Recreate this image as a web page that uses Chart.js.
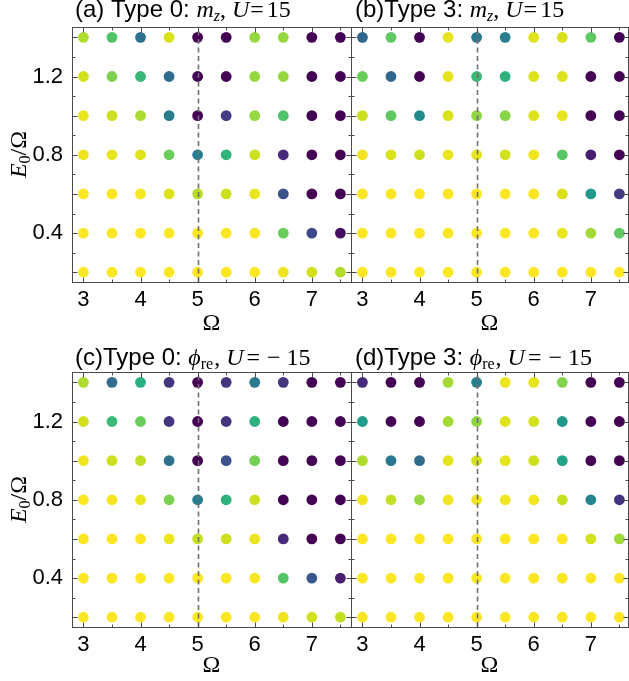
<!DOCTYPE html>
<html><head><meta charset="utf-8">
<script src="https://cdn.jsdelivr.net/npm/chart.js@4.4.1/dist/chart.umd.min.js"></script>
<style>
html,body{margin:0;padding:0;background:#fff;width:629px;height:681px;overflow:hidden}
canvas{position:absolute}
</style></head><body>
<canvas id="ca" width="352" height="340" style="left:0;top:0"></canvas>
<canvas id="cb" width="278" height="340" style="left:351px;top:0"></canvas>
<canvas id="cc" width="352" height="341" style="left:0;top:340px"></canvas>
<canvas id="cd" width="278" height="341" style="left:351px;top:340px"></canvas>
<script>
// ---- data ----
const omegaValues = [3, 3.5, 4, 4.5, 5, 5.5, 6, 6.5, 7, 7.5];
const e0Values = [1.4, 1.2, 1.0, 0.8, 0.6, 0.4, 0.2];
const xTickLabels = [3, 4, 5, 6, 7];
const yTickLabels = [0.4, 0.8, 1.2];
const criticalOmega = 5;
// colour value (0..1, viridis) per point, rows = e0Values (top to bottom), cols = omegaValues
const mzType0 = [
  [0.88, 0.72, 0.37, 0.94, 0.00, 0.00, 0.84, 0.84, 0.00, 0.00],
  [0.93, 0.80, 0.67, 0.35, 0.00, 0.00, 0.84, 0.84, 0.00, 0.00],
  [0.97, 0.92, 0.87, 0.41, 0.00, 0.17, 0.84, 0.72, 0.00, 0.00],
  [0.98, 0.96, 0.95, 0.77, 0.42, 0.65, 0.92, 0.12, 0.00, 0.00],
  [1.00, 1.00, 0.99, 0.95, 0.89, 0.92, 0.97, 0.25, 0.00, 0.00],
  [1.00, 1.00, 1.00, 1.00, 0.99, 1.00, 0.99, 0.77, 0.22, 0.03],
  [1.00, 1.00, 1.00, 1.00, 1.00, 1.00, 1.00, 0.98, 0.93, 0.88]
];
const mzType3 = [
  [0.33, 0.75, 0.00, 0.96, 0.40, 0.42, 0.95, 0.94, 0.75, 0.00],
  [0.77, 0.33, 0.00, 0.96, 0.68, 0.64, 0.95, 0.95, 0.00, 0.00],
  [0.92, 0.75, 0.47, 0.94, 0.83, 0.82, 0.95, 0.96, 0.00, 0.00],
  [0.98, 0.94, 0.92, 0.97, 0.96, 0.93, 0.98, 0.74, 0.08, 0.00],
  [1.00, 1.00, 1.00, 1.00, 1.00, 1.00, 1.00, 0.94, 0.53, 0.17],
  [1.00, 1.00, 1.00, 1.00, 1.00, 1.00, 1.00, 0.97, 0.86, 0.75],
  [1.00, 1.00, 1.00, 1.00, 1.00, 1.00, 1.00, 1.00, 1.00, 1.00]
];
const phiType0 = [
  [0.88, 0.35, 0.63, 0.15, 0.00, 0.15, 0.41, 0.15, 0.00, 0.00],
  [0.93, 0.68, 0.77, 0.15, 0.00, 0.15, 0.64, 0.00, 0.00, 0.00],
  [0.98, 0.92, 0.90, 0.37, 0.00, 0.25, 0.79, 0.00, 0.00, 0.00],
  [1.00, 0.99, 0.97, 0.80, 0.42, 0.64, 0.92, 0.00, 0.00, 0.00],
  [1.00, 1.00, 1.00, 0.97, 0.91, 0.92, 0.97, 0.12, 0.00, 0.00],
  [1.00, 1.00, 1.00, 1.00, 1.00, 1.00, 0.99, 0.73, 0.27, 0.08],
  [1.00, 1.00, 1.00, 1.00, 1.00, 1.00, 1.00, 0.98, 0.93, 0.91]
];
const phiType3 = [
  [0.12, 0.00, 0.00, 0.86, 0.43, 0.97, 0.96, 0.81, 0.00, 0.00],
  [0.55, 0.00, 0.00, 0.86, 0.83, 0.95, 0.93, 0.53, 0.00, 0.00],
  [0.88, 0.40, 0.34, 0.96, 0.93, 0.96, 0.92, 0.58, 0.00, 0.00],
  [0.98, 0.91, 0.84, 0.98, 0.98, 0.98, 0.98, 0.91, 0.45, 0.15],
  [1.00, 1.00, 1.00, 1.00, 1.00, 1.00, 1.00, 1.00, 0.93, 0.85],
  [1.00, 1.00, 1.00, 1.00, 1.00, 1.00, 1.00, 1.00, 1.00, 1.00],
  [1.00, 1.00, 1.00, 1.00, 1.00, 1.00, 1.00, 1.00, 1.00, 1.00]
];

// ---- styling ----
const SANS = '"Liberation Sans", Arial, sans-serif';
const SERIF = '"Liberation Serif", "Times New Roman", serif';
const VIR = ['#440154','#48186a','#472d7b','#424086','#3b528b','#33638d','#2c728e','#26828e','#21918c','#1fa088','#28ae80','#3fbc73','#5ec962','#84d44b','#addc30','#d8e219','#fde725'];
function hex(c){return [1,3,5].map(i=>parseInt(c.substr(i,2),16));}
function viridis(t){
  t = Math.max(0, Math.min(1, t));
  const s = t * (VIR.length - 1), i = Math.min(VIR.length - 2, Math.floor(s)), f = s - i;
  const a = hex(VIR[i]), b = hex(VIR[i + 1]);
  return 'rgb(' + a.map((v, k) => Math.round(v + (b[k] - v) * f)).join(',') + ')';
}
const tickFont = {family: SANS, size: 22};

function drawSegs(ctx, x, y, segs){
  for (const s of segs){
    ctx.font = s.f;
    ctx.fillText(s.t, x, y + (s.dy || 0));
    x += ctx.measureText(s.t).width + (s.gap || 0);
  }
  return x;
}
function segWidth(ctx, segs){
  let w = 0;
  for (const s of segs){ ctx.font = s.f; w += ctx.measureText(s.t).width + (s.gap || 0); }
  return w;
}

function makeFramePlugin(cfg){
  return {
    id: 'frame' + cfg.id,
    afterDatasetsDraw(chart){
      const {ctx, chartArea: a, scales: {x, y}} = chart;
      ctx.save();
      // dashed reference line
      const px = Math.round(x.getPixelForValue(criticalOmega)) + 0.5;
      ctx.strokeStyle = '#707070'; ctx.lineWidth = 1.6; ctx.setLineDash([5, 3.5]);
      ctx.beginPath(); ctx.moveTo(px, a.bottom); ctx.lineTo(px, a.top); ctx.stroke();
      ctx.setLineDash([]);
      // frame
      const L = Math.round(a.left) + 0.5, R = Math.round(a.right) + 0.5,
            T = Math.round(a.top) + 0.5, B = Math.round(a.bottom) + 0.5;
      ctx.strokeStyle = '#4a4a4a'; ctx.lineWidth = 1;
      ctx.strokeRect(L, T, R - L, B - T);
      ctx.beginPath();
      for (let k = 0; k <= 9; k++){
        const v = 3 + k * 0.5, p = Math.round(x.getPixelForValue(v)) + 0.5;
        const len = (k % 2 === 0) ? 5 : 3;
        ctx.moveTo(p, B); ctx.lineTo(p, B - len);
        ctx.moveTo(p, T); ctx.lineTo(p, T + len);
      }
      for (let k = 2; k <= 14; k++){
        const v = k / 10, p = Math.round(y.getPixelForValue(v)) + 0.5;
        const len = (k % 2 === 0) ? 5 : 3;
        ctx.moveTo(L, p); ctx.lineTo(L + len, p);
        ctx.moveTo(R, p); ctx.lineTo(R - len, p);
      }
      ctx.stroke();
      ctx.restore();
    },
    afterDraw(chart){
      const {ctx, chartArea: a} = chart;
      ctx.save();
      ctx.fillStyle = '#000';
      ctx.textBaseline = 'alphabetic';
      ctx.textAlign = 'left';
      drawSegs(ctx, a.left + cfg.titleDx, a.top - cfg.titleDy, cfg.title);
      // x axis title
      ctx.font = '24px ' + SERIF;
      ctx.textAlign = 'center';
      ctx.fillText('\u03A9', (a.left + a.right) / 2, a.bottom + cfg.xTitleDy);
      // y axis title
      if (cfg.showY){
        const segs = [
          {t: 'E', f: 'italic 24px ' + SERIF},
          {t: '0', f: '16px ' + SERIF, dy: 4},
          {t: '/\u03A9', f: '24px ' + SERIF}
        ];
        ctx.translate(26, (a.top + a.bottom) / 2);
        ctx.rotate(-Math.PI / 2);
        ctx.textAlign = 'left';
        drawSegs(ctx, -segWidth(ctx, segs) / 2, 0, segs);
      }
      ctx.restore();
    }
  };
}

function makeChart(id, values, cfg){
  const pts = [];
  e0Values.forEach((e, i) => omegaValues.forEach((w, j) => pts.push({x: w, y: e, v: values[i][j]})));
  return new Chart(document.getElementById(id), {
    type: 'scatter',
    data: {datasets: [{
      data: pts,
      pointRadius: 5.4, pointHoverRadius: 5.4, pointBorderWidth: 0,
      pointBorderColor: 'rgba(0,0,0,0)',
      pointBackgroundColor: pts.map(p => viridis(p.v))
    }]},
    options: {
      responsive: false, animation: false, events: [],
      layout: {autoPadding: false, padding: {top: cfg.padTop, right: 1, left: 0, bottom: 0}},
      plugins: {legend: {display: false}, tooltip: {enabled: false}},
      scales: {
        x: {
          type: 'linear', min: 2.8, max: cfg.xMax,
          grid: {display: false, drawTicks: false}, border: {display: false},
          afterBuildTicks: s => { s.ticks = xTickLabels.map(v => ({value: v})); },
          afterFit: s => { s.height = cfg.xAxisH; s.paddingLeft = 0; s.paddingRight = 0; },
          ticks: {font: tickFont, color: '#000', padding: 5, maxRotation: 0, autoSkip: false}
        },
        y: {
          type: 'linear', min: 0.15, max: 1.453, display: cfg.showY,
          grid: {display: false, drawTicks: false}, border: {display: false},
          afterBuildTicks: s => { s.ticks = yTickLabels.map(v => ({value: v})); },
          afterFit: s => { s.width = cfg.showY ? 72 : 0; s.paddingTop = 0; s.paddingBottom = 0; },
          ticks: {font: tickFont, color: '#000', padding: 9, callback: v => Number(v).toFixed(1)}
        }
      }
    },
    plugins: [makeFramePlugin(cfg)]
  });
}

function titleSegs(tag, type, quantity, uParts, gaps){
  const s = [{t: tag + 'Type ' + type + ': ', f: '24px ' + SANS}];
  if (quantity === 'mz'){
    s.push({t: 'm', f: 'italic 24px ' + SERIF});
    s.push({t: 'z', f: 'italic 16px ' + SERIF, dy: 4});
  } else {
    s.push({t: '\u03D5', f: 'italic 24px ' + SERIF});
    s.push({t: 're', f: '16px ' + SERIF, dy: 4, gap: 1});
  }
  s.push({t: ', ', f: '24px ' + SERIF});
  s.push({t: 'U', f: 'italic 24px ' + SERIF, gap: gaps[0]});
  uParts.forEach((p, i) => s.push({t: p, f: '24px ' + SERIF, gap: gaps[i + 1] || 0}));
  return s;
}

makeChart('ca', mzType0, {id: 'a', padTop: 27, xAxisH: 58, xMax: 7.686, showY: true,
  titleDx: 3, titleDy: 10, xTitleDy: 48, title: titleSegs('(a) ', 0, 'mz', ['=', '15'], [1, 3])});
makeChart('cb', mzType3, {id: 'b', padTop: 27, xAxisH: 58, xMax: 7.651, showY: false,
  titleDx: 4, titleDy: 10, xTitleDy: 48, title: titleSegs('(b)', 3, 'mz', ['=', '15'], [1, 3])});
makeChart('cc', phiType0, {id: 'c', padTop: 32, xAxisH: 54, xMax: 7.686, showY: true,
  titleDx: 3, titleDy: 7, xTitleDy: 45, title: titleSegs('(c)', 0, 'phi', ['=', '\u2212', '15'], [3, 7, 6])});
makeChart('cd', phiType3, {id: 'd', padTop: 32, xAxisH: 54, xMax: 7.651, showY: false,
  titleDx: 4, titleDy: 7, xTitleDy: 45, title: titleSegs('(d)', 3, 'phi', ['=', '\u2212', '15'], [3, 7, 6])});
</script>
</body></html>
